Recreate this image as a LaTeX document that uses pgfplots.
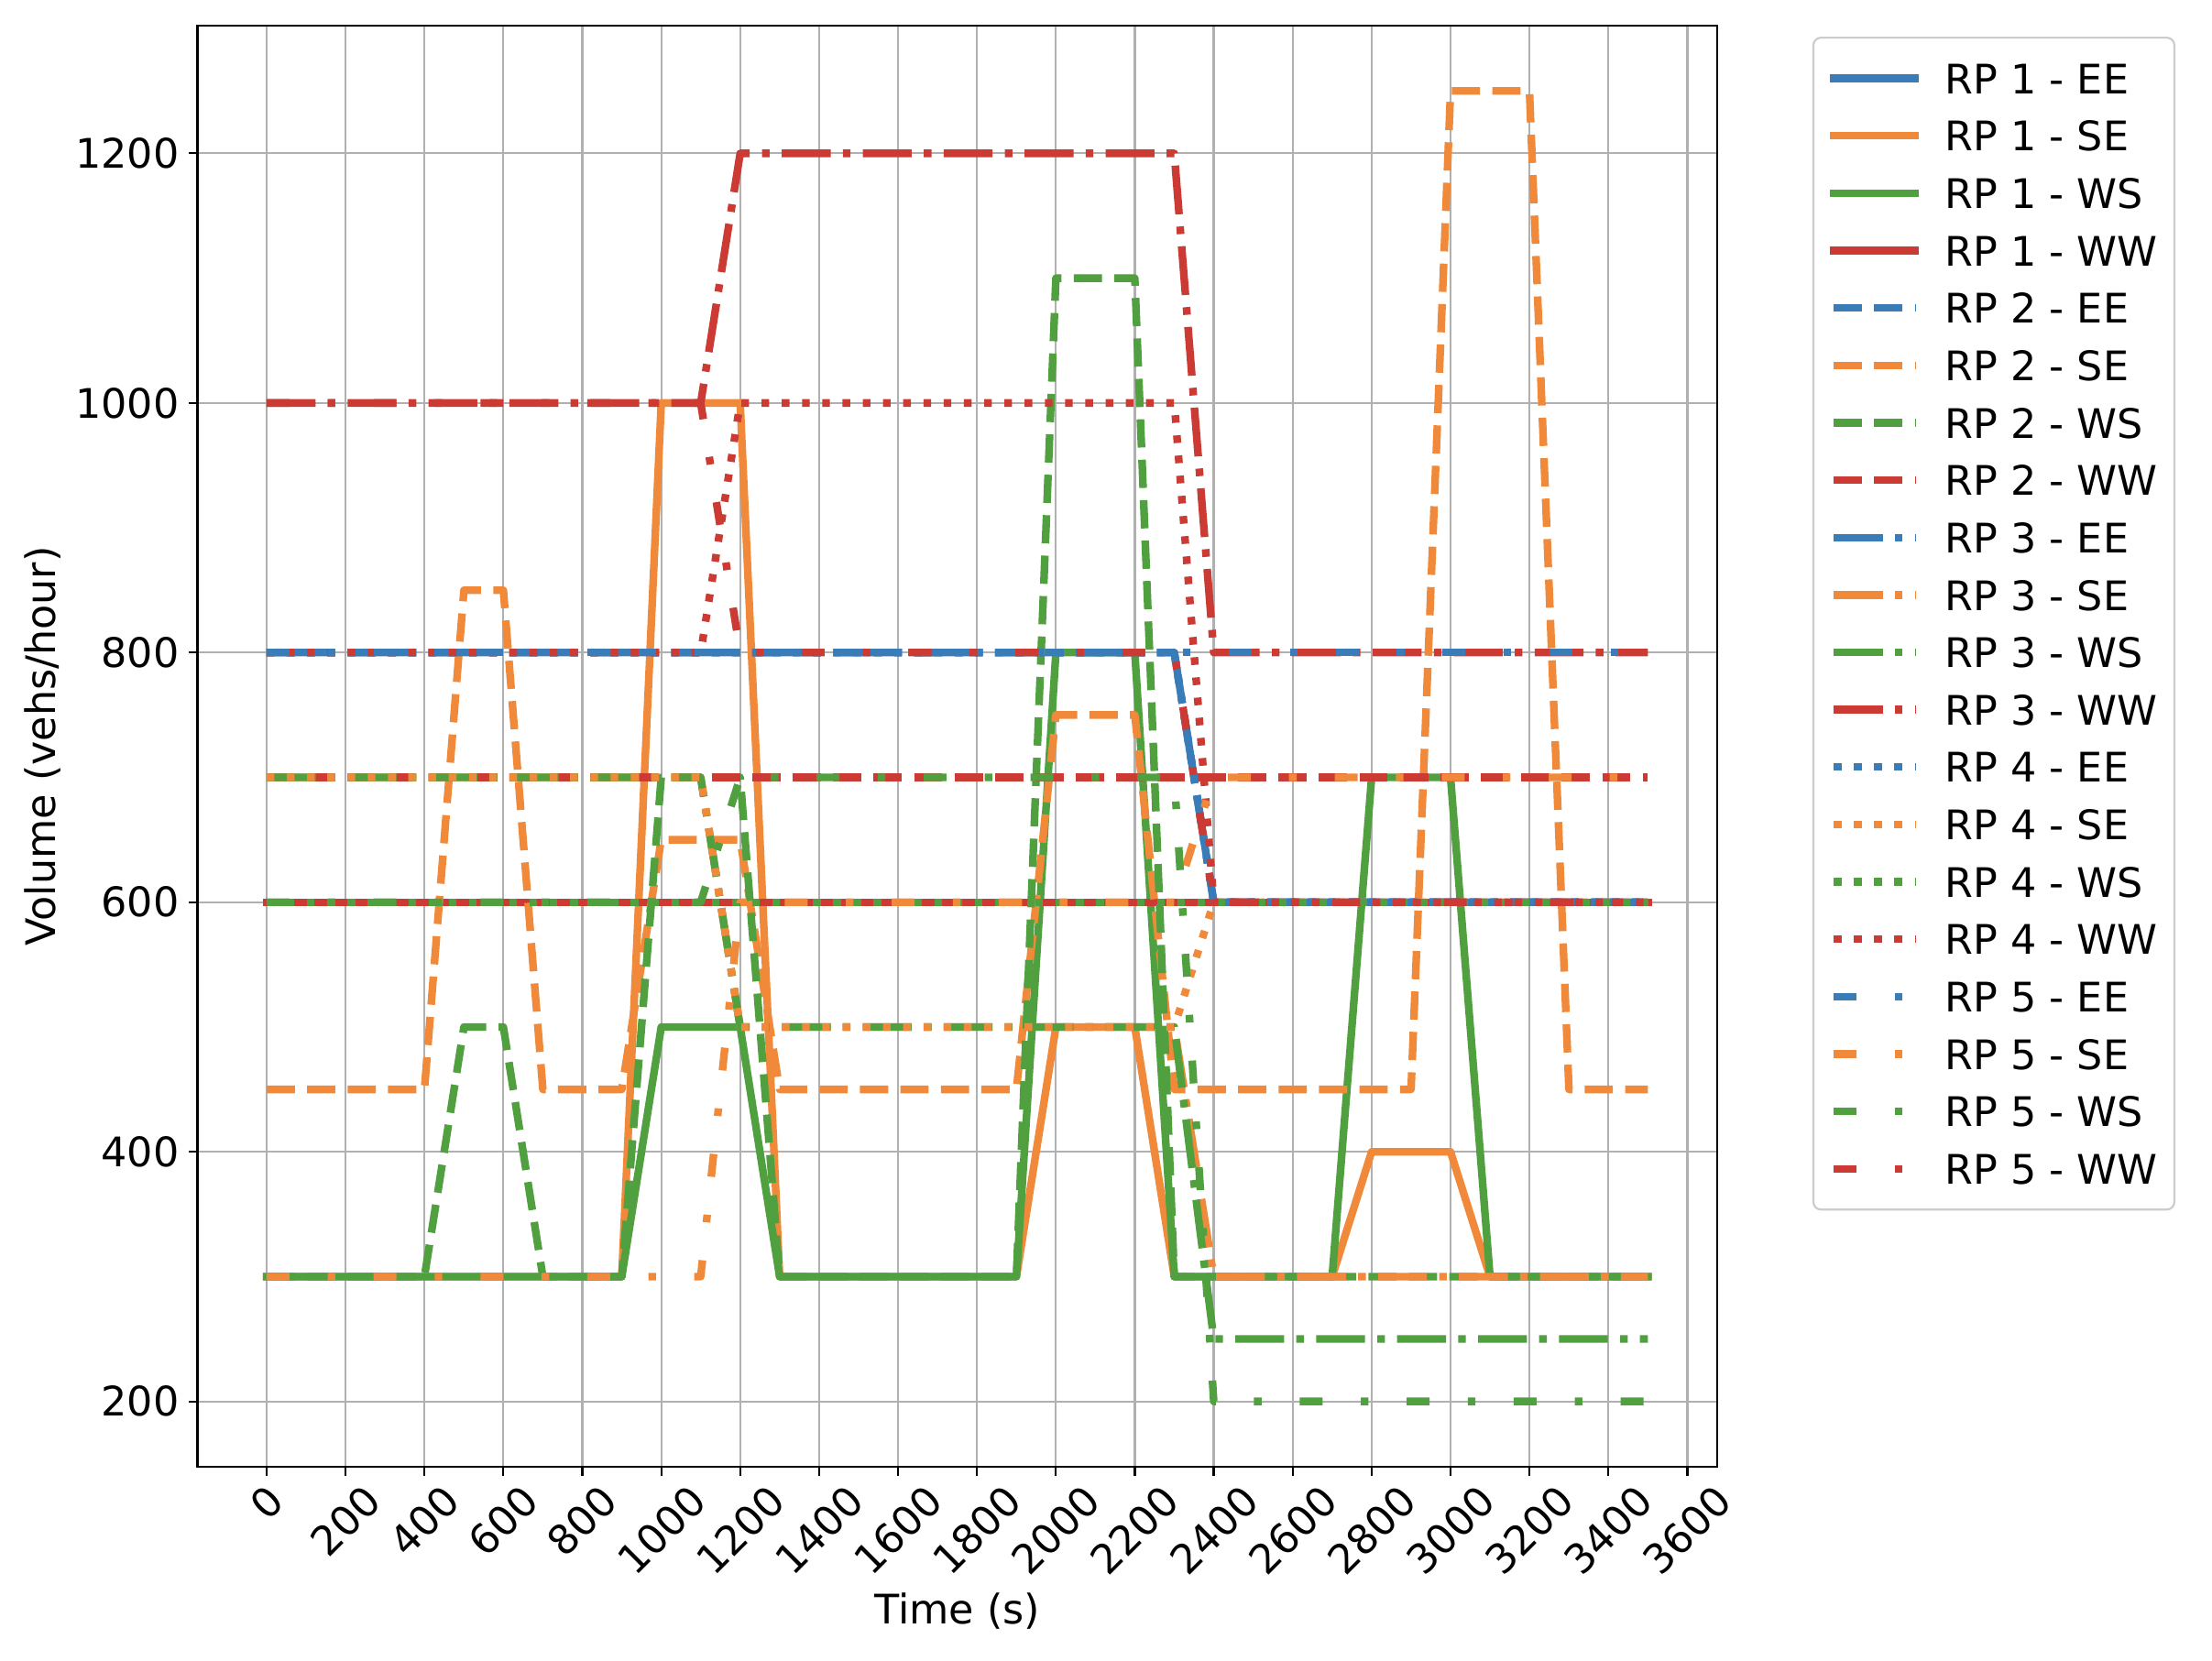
\documentclass[border=0pt]{standalone}
\usepackage{fontspec}
\setmainfont{DejaVu Sans}
\usepackage{pgfplots}
\pgfplotsset{compat=1.18}
\definecolor{cB}{RGB}{58,124,184}
\definecolor{cO}{RGB}{240,138,58}
\definecolor{cG}{RGB}{80,160,64}
\definecolor{cR}{RGB}{204,58,52}
\definecolor{gridgray}{RGB}{176,176,176}
\definecolor{legframe}{RGB}{204,204,204}
\tikzset{
 rp1/.style={line width=3pt, solid, line cap=rect, line join=round},
 rp2/.style={line width=3pt, dash pattern=on 11.1pt off 4.8pt, line cap=butt, line join=round},
 rp3/.style={line width=3pt, dash pattern=on 19.2pt off 4.8pt on 3pt off 4.8pt, line cap=butt, line join=round},
 rp4/.style={line width=3pt, dash pattern=on 3pt off 4.95pt, line cap=butt, line join=round},
 rp5/.style={line width=3pt, dash pattern=on 9pt off 15pt on 3pt off 15pt, line cap=butt, line join=round},
}
\newcommand{\fs}{\fontsize{16}{19}\selectfont}
\begin{document}
\begin{tikzpicture}
\path[use as bounding box] (0,0) rectangle (869pt,652.3pt);
\begin{axis}[
  at={(77.6pt,75.9pt)}, anchor=south west,
  scale only axis, width=596.9pt, height=566.4pt,
  xmin=-175, xmax=3675, ymin=147.5, ymax=1302.5,
  xtick={0,200,...,3600}, ytick={200,400,...,1200},
  grid=major, grid style={line width=0.8pt, color=gridgray},
  axis line style={line width=0.8pt, black},
  tick align=outside, tick pos=left,
  major tick length=3.5pt,
  tick style={line width=0.8pt, black},
  /pgf/number format/assume math mode=true,
  /pgf/number format/1000 sep={},
  xticklabel={\rotatebox{45}{\pgfmathprintnumber{\tick}}},
  xticklabel style={font=\fs, anchor=north, inner sep=0pt, yshift=-2.5pt},
  yticklabel style={font=\fs, anchor=east, inner sep=0pt, xshift=-3.5pt},
  every axis x label/.style={at={(axis description cs:0.5,-0.1)}, anchor=center, font=\fs},
  every axis y label/.style={at={(axis description cs:-0.1022,0.5)}, rotate=90, anchor=center, font=\fs},
  xlabel={Time (s)},
  ylabel={Volume (vehs/hour)},
  legend cell align=left,
  legend image code/.code={\draw[#1] (0pt,0pt) -- (32pt,0pt);},
  legend style={at={(1.0628,0.9922)}, anchor=north west,
    draw=legframe, line width=0.8pt, rounded corners=3pt, fill=white,
    font=\fs, inner xsep=6.5pt, inner ysep=10pt, row sep=10.55pt, column sep=10.2pt,
    nodes={inner sep=0pt, text height=12pt, text depth=0pt}},
]
\addplot[cB, rp1] coordinates {(0,600) (3500,600)};
\addlegendentry{RP 1 - EE}
\addplot[cO, rp1] coordinates {(0,300) (900,300) (1000,1000) (1200,1000) (1300,300) (1900,300) (2000,500) (2200,500) (2300,300) (2700,300) (2800,400) (3000,400) (3100,300) (3500,300)};
\addlegendentry{RP 1 - SE}
\addplot[cG, rp1] coordinates {(0,300) (900,300) (1000,500) (1200,500) (1300,300) (1900,300) (2000,800) (2200,800) (2300,300) (2700,300) (2800,700) (3000,700) (3100,300) (3500,300)};
\addlegendentry{RP 1 - WS}
\addplot[cR, rp1] coordinates {(0,600) (3500,600)};
\addlegendentry{RP 1 - WW}
\addplot[cB, rp2] coordinates {(0,800) (2300,800) (2400,600) (3500,600)};
\addlegendentry{RP 2 - EE}
\addplot[cO, rp2] coordinates {(0,450) (400,450) (500,850) (600,850) (700,450) (900,450) (1000,650) (1200,650) (1300,450) (1900,450) (2000,750) (2200,750) (2300,450) (2900,450) (3000,1250) (3200,1250) (3300,450) (3500,450)};
\addlegendentry{RP 2 - SE}
\addplot[cG, rp2] coordinates {(0,300) (400,300) (500,500) (600,500) (700,300) (900,300) (1000,700) (1200,700) (1300,300) (1900,300) (2000,1100) (2200,1100) (2300,300) (3500,300)};
\addlegendentry{RP 2 - WS}
\addplot[cR, rp2] coordinates {(0,700) (3500,700)};
\addlegendentry{RP 2 - WW}
\addplot[cB, rp3] coordinates {(0,800) (2300,800) (2400,600) (3500,600)};
\addlegendentry{RP 3 - EE}
\addplot[cO, rp3] coordinates {(0,700) (1100,700) (1200,500) (2300,500) (2400,300) (3500,300)};
\addlegendentry{RP 3 - SE}
\addplot[cG, rp3] coordinates {(0,700) (1100,700) (1200,500) (2300,500) (2400,250) (3500,250)};
\addlegendentry{RP 3 - WS}
\addplot[cR, rp3] coordinates {(0,1000) (1100,1000) (1200,1200) (2300,1200) (2400,800) (3500,800)};
\addlegendentry{RP 3 - WW}
\addplot[cB, rp4] coordinates {(0,800) (2300,800) (2400,600) (3500,600)};
\addlegendentry{RP 4 - EE}
\addplot[cO, rp4] coordinates {(0,700) (1100,700) (1200,500) (2300,500) (2400,600) (3500,600)};
\addlegendentry{RP 4 - SE}
\addplot[cG, rp4] coordinates {(0,600) (3500,600)};
\addlegendentry{RP 4 - WS}
\addplot[cR, rp4] coordinates {(0,800) (1100,800) (1200,1000) (2300,1000) (2400,600) (3500,600)};
\addlegendentry{RP 4 - WW}
\addplot[cB, rp5] coordinates {(0,800) (3500,800)};
\addlegendentry{RP 5 - EE}
\addplot[cO, rp5] coordinates {(0,300) (1100,300) (1200,600) (2300,600) (2400,700) (3500,700)};
\addlegendentry{RP 5 - SE}
\addplot[cG, rp5] coordinates {(0,600) (1100,600) (1200,700) (2300,700) (2400,200) (3500,200)};
\addlegendentry{RP 5 - WS}
\addplot[cR, rp5] coordinates {(0,1000) (1100,1000) (1200,800) (2300,800) (2400,600) (3500,600)};
\addlegendentry{RP 5 - WW}
\end{axis}
\end{tikzpicture}
\end{document}
